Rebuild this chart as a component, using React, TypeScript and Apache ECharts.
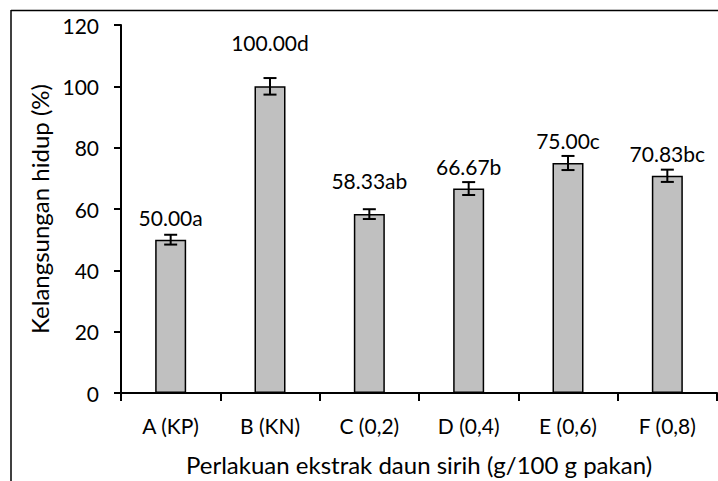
import React, { useEffect, useRef } from "react";
import * as echarts from "echarts";

const categories = ["A (KP)", "B (KN)", "C (0,2)", "D (0,4)", "E (0,6)", "F (0,8)"];
const survival = [50.0, 100.0, 58.33, 66.67, 75.0, 70.83];
const errors = [1.6, 2.7, 1.6, 2.1, 2.3, 2.0];
const letters = ["a", "d", "ab", "b", "c", "bc"];
const yTicks = { min: 0, max: 120, interval: 20 };
// extra lift of individual data labels (style only)
const labelRaise = [0, 21, 11, 0, 0, 0];

const FONT = "Lato, 'Open Sans', sans-serif";

export default function App() {
  const ref = useRef<HTMLDivElement>(null);
  useEffect(() => {
    if (!ref.current) return;
    const chart = echarts.init(ref.current, null, { renderer: "svg" });
    chart.setOption({
      animation: false,
      backgroundColor: "#fff",
      textStyle: { fontFamily: FONT, color: "#000" },
      grid: { left: 121, right: 1, top: 25, bottom: 88, containLabel: false },
      graphic: [
        { type: "line", shape: { x1: 11, y1: 10.5, x2: 718, y2: 10.5 }, style: { stroke: "#000", lineWidth: 1.5 } },
        { type: "line", shape: { x1: 11, y1: 10, x2: 11, y2: 481 }, style: { stroke: "#000", lineWidth: 1.5 } },
      ],
      xAxis: {
        type: "category",
        data: categories,
        name: "Perlakuan ekstrak daun sirih (g/100 g pakan)",
        nameLocation: "middle",
        nameGap: 59,
        nameTextStyle: { fontSize: 24, color: "#000", fontFamily: FONT },
        axisLine: { lineStyle: { color: "#000", width: 2 } },
        axisTick: { show: true, length: 8, lineStyle: { color: "#000", width: 2 } },
        axisLabel: { fontSize: 21, color: "#000", margin: 22, fontFamily: FONT },
      },
      yAxis: {
        type: "value",
        min: yTicks.min,
        max: yTicks.max,
        interval: yTicks.interval,
        name: "Kelangsungan hidup (%)",
        nameLocation: "middle",
        nameGap: 68,
        nameTextStyle: { fontSize: 24, color: "#000", fontFamily: FONT },
        axisLine: { show: true, lineStyle: { color: "#000", width: 2 } },
        axisTick: { show: true, length: 7, lineStyle: { color: "#000", width: 2 } },
        axisLabel: { fontSize: 21, color: "#000", margin: 22, fontFamily: FONT },
        splitLine: { show: false },
      },
      series: [
        {
          type: "bar",
          data: survival.map((v, i) => ({
            value: v,
            label: { distance: 12 + labelRaise[i] },
          })),
          barWidth: 31,
          itemStyle: { color: "#c0c0c0", borderColor: "#000", borderWidth: 1.5 },
          label: {
            show: true,
            position: "top",
            distance: 12,
            fontSize: 21,
            color: "#000",
            fontFamily: FONT,
            formatter: (p: any) => survival[p.dataIndex].toFixed(2) + letters[p.dataIndex],
          },
          z: 2,
        },
        {
          type: "custom",
          z: 3,
          data: survival.map((v, i) => [i, v, errors[i]]),
          encode: { x: 0, y: 1 },
          renderItem: (params: any, api: any) => {
            const i = api.value(0);
            const v = api.value(1);
            const e = api.value(2);
            const hi = api.coord([i, v + e]);
            const lo = api.coord([i, v - e]);
            const h = 6.5;
            const st = { stroke: "#000", lineWidth: 2 };
            return {
              type: "group",
              children: [
                { type: "line", shape: { x1: hi[0], y1: hi[1], x2: lo[0], y2: lo[1] }, style: st },
                { type: "line", shape: { x1: hi[0] - h, y1: hi[1], x2: hi[0] + h, y2: hi[1] }, style: st },
                { type: "line", shape: { x1: lo[0] - h, y1: lo[1], x2: lo[0] + h, y2: lo[1] }, style: st },
              ],
            };
          },
        },
      ],
    });
    return () => chart.dispose();
  }, []);
  return <div ref={ref} style={{ width: 718, height: 481, position: "absolute", left: 0, top: 0 }} />;
}
